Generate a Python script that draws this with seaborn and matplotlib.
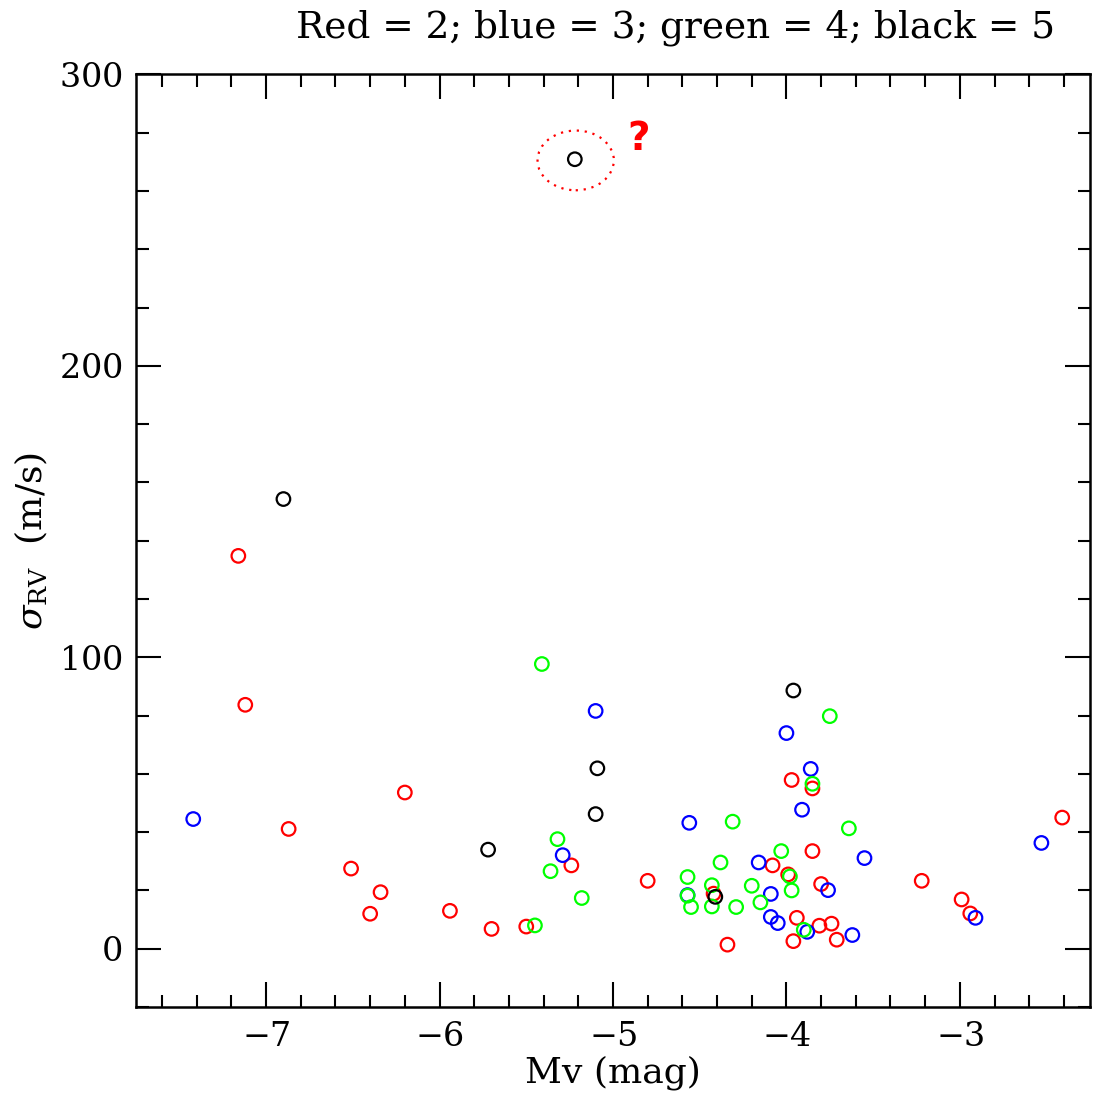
import numpy as np
import pandas as pd
import matplotlib
matplotlib.use('Agg')
import matplotlib.pyplot as plt
import seaborn as sns
from matplotlib.patches import Ellipse
from matplotlib.ticker import MultipleLocator

# --- data (Mv, sigma_RV) per group ---
red_mv = [-7.16, -7.12, -6.87, -6.20, -6.51, -6.34, -6.40, -5.94, -5.70, -5.50,
          -5.24, -4.80, -4.42, -4.34, -4.08, -3.97, -3.85, -3.85, -3.99, -3.80,
          -3.22, -2.99, -2.94, -3.94, -3.96, -3.81, -3.74, -3.71, -2.41]
red_rv = [134.8, 83.7, 41.1, 53.6, 27.5, 19.4, 12.0, 13.0, 6.8, 7.6,
          28.6, 23.3, 18.9, 1.4, 28.6, 57.9, 55.0, 33.5, 25.5, 22.2,
          23.3, 16.9, 12.1, 10.6, 2.6, 7.9, 8.6, 3.1, 45.0]

blue_mv = [-7.42, -5.10, -5.29, -4.56, -4.57, -4.16, -4.09, -4.09, -4.00, -3.86,
           -3.91, -2.53, -3.55, -3.76, -2.91, -4.05, -3.88, -3.62]
blue_rv = [44.5, 81.6, 32.1, 43.2, 18.4, 29.6, 18.8, 10.9, 74.0, 61.7,
           47.7, 36.3, 31.1, 20.1, 10.6, 8.8, 5.8, 4.7]

green_mv = [-5.45, -5.41, -5.32, -5.36, -5.18, -4.31, -4.57, -4.57, -4.55, -4.38,
            -4.43, -4.43, -4.29, -4.20, -4.15, -3.75, -3.85, -3.64, -4.03, -3.98,
            -3.97, -3.90]
green_rv = [8.0, 97.7, 37.6, 26.6, 17.4, 43.6, 24.6, 18.2, 14.3, 29.6,
            21.8, 14.5, 14.3, 21.6, 15.9, 79.8, 56.6, 41.3, 33.5, 24.8,
            20.0, 6.5]

black_mv = [-6.90, -5.22, -5.72, -5.09, -5.10, -4.41, -3.96]
black_rv = [154.3, 270.9, 34.0, 61.9, 46.2, 17.8, 88.6]

groups = [('red', red_mv, red_rv, '#ff0000'),
          ('blue', blue_mv, blue_rv, '#0000ff'),
          ('green', green_mv, green_rv, '#00ff00'),
          ('black', black_mv, black_rv, '#000000')]

sns.set_style('ticks', {'axes.edgecolor': 'black', 'xtick.color': 'black',
                        'ytick.color': 'black', 'text.color': 'black',
                        'axes.labelcolor': 'black'})
plt.rcParams['font.family'] = ['DejaVu Serif']
plt.rcParams['mathtext.fontset'] = 'dejavuserif'
plt.rcParams['axes.formatter.use_mathtext'] = True

fig = plt.figure(figsize=(10.95, 11.11), dpi=100)
ax = fig.add_axes([0.1242, 0.0936, 0.8712, 0.8394])

for name, mv, rv, col in groups:
    df = pd.DataFrame({'Mv': mv, 'sigma': rv})
    sns.scatterplot(data=df, x='Mv', y='sigma', ax=ax, color=col,
                    facecolor='none', edgecolor=col, s=95, linewidth=1.6,
                    marker='o', legend=False, zorder=3)

# the dubious point
ax.add_patch(Ellipse((-5.215, 270.5), 0.44, 20.5, fill=False, edgecolor='#ff0000',
                     linestyle=(0, (1, 2.6)), linewidth=1.6))
ax.text(-4.85, 278, '?', color='#ff0000', fontsize=28, fontweight='bold',
        family='DejaVu Sans', ha='center', va='center')

ax.set_xlim(-7.75, -2.25)
ax.set_ylim(-20, 300)
ax.xaxis.set_major_locator(MultipleLocator(1))
ax.xaxis.set_minor_locator(MultipleLocator(0.2))
ax.yaxis.set_major_locator(MultipleLocator(100))
ax.yaxis.set_minor_locator(MultipleLocator(20))
ax.tick_params(which='both', direction='in', top=True, right=True, width=1.5,
               labelsize=24, pad=10)
ax.tick_params(which='major', length=18)
ax.tick_params(which='minor', length=9)
for sp in ax.spines.values():
    sp.set_linewidth(1.8)

ax.set_xlabel('Mv (mag)', fontsize=26, labelpad=2)
ax.set_ylabel(r'$\sigma_{\rm RV}$  (m/s)', fontsize=26, labelpad=6)
fig.text(0.964, 0.975, 'Red = 2; blue = 3; green = 4; black = 5',
         fontsize=27, ha='right', va='center')

fig.savefig('out.png', dpi=100)
